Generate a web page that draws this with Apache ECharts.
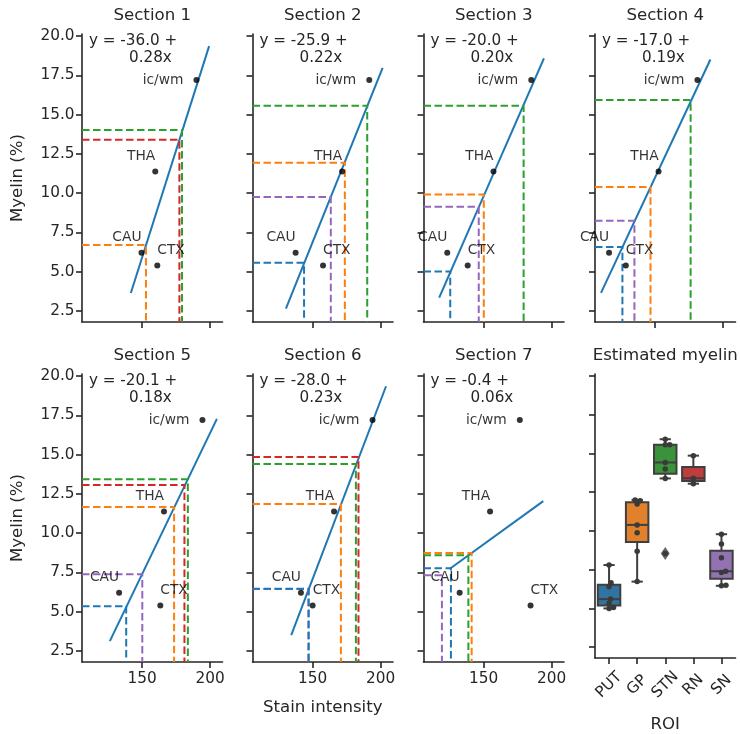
<!DOCTYPE html>
<html><head><meta charset="utf-8">
<script src="https://cdn.jsdelivr.net/npm/echarts@6/dist/echarts.min.js"></script>
<style>html,body{margin:0;padding:0;background:#fff}#c{width:740px;height:734px}</style>
</head><body><div id="c"></div>
<script>
// ---------------- data ----------------
const sectionTitles = ['Section 1','Section 2','Section 3','Section 4','Section 5','Section 6','Section 7'];
const boxTitle = 'Estimated myelin';
const eqLine1 = ['y = -36.0 +','y = -25.9 +','y = -20.0 +','y = -17.0 +','y = -20.1 +','y = -28.0 +','y = -0.4 +'];
const eqLine2 = ['0.28x','0.22x','0.20x','0.19x','0.18x','0.23x','0.06x'];

const pointNames = ['ic/wm','THA','CAU','CTX'];
const pointY = [17.2, 11.38, 6.2, 5.4];
const pointX = [
  [189.9, 159.7, 149.6, 161.2],
  [191.6, 171.7, 137.6, 157.7],
  [185.0, 157.3, 123.4, 138.4],
  [181.1, 152.6, 116.3, 128.6],
  [194.3, 166.1, 133.2, 163.4],
  [194.0, 165.8, 141.5, 150.1],
  [176.6, 154.8, 132.5, 184.5]
];

// regression line end points per section
const lineX = [[141.8,199.2],[130.5,201.4],[117.5,194.3],[110.4,190.6],[126.4,204.9],[134.4,203.9],[125.1,193.8]];
const lineY = [[3.65,19.36],[2.65,17.98],[3.35,18.58],[3.65,18.51],[3.13,17.27],[3.51,19.35],[7.72,12.04]];

const roiNames = ['PUT','GP','STN','RN','SN'];
// stain intensity of each ROI per section (null = not shown)
const roiX = [
  [null, 152.9, 179.3, 177.4, null],
  [143.8, 173.7, 190.1, null, 163.4],
  [125.6, 150.2, 179.4, null, 146.5],
  [126.1, 146.7, 176.1, null, 134.9],
  [138.4, 173.5, 183.6, 181.1, 150.2],
  [147.2, 170.8, 181.8, 183.7, 147.0],
  [126.1, 141.3, 138.9, null, 119.5]
];
// estimated myelin of each ROI per section
const roiY = [
  [null, 6.70, 14.02, 13.40, null],
  [5.57, 11.93, 15.57, null, 9.76],
  [5.01, 9.91, 15.57, null, 9.14],
  [6.57, 10.40, 15.93, null, 8.25],
  [5.35, 11.67, 13.43, 13.07, 7.38],
  [6.47, 11.85, 14.40, 14.84, 6.45],
  [7.76, 8.74, 8.59, null, 7.32]
];

// estimated myelin values shown in the box panel
const putVals = [5.0, 5.06, 5.33, 5.6, 6.4, 6.66, 7.8];
const gpVals  = [6.73, 8.69, 9.88, 10.39, 11.74, 11.95, 12.0];
const stnVals = [8.55, 13.39, 14.0, 14.42, 15.56, 15.56, 15.92];
const rnVals  = [13.05, 13.40, 14.86];
const snVals  = [6.46, 6.5, 7.32, 7.40, 8.27, 9.16, 9.79];

const xTicks = [150, 200];
const yTicks = [2.5, 5.0, 7.5, 10.0, 12.5, 15.0, 17.5, 20.0];
const X_MIN = 106, X_MAX = 209, Y_MIN = 1.8, Y_MAX = 20.13;

// ---------------- style ----------------
const FONT = 'DejaVu Sans';
const INK = '#262626';
const TICK_FS = 15.3;
const lineColors = ['#1f77b4','#ff7f0e','#2ca02c','#d62728','#9467bd'];
const boxColors = ['#3274a1','#e1812c','#3a923a','#c03d3e','#9372b2'];
const EDGE = '#3f3f3f';
const gridLeft = [82, 252.5, 423.5, 595];
const rowTop = [34, 374];
const gridW = 140.5, gridH = 288;

const roiVals = [putVals, gpVals, stnVals, rnVals, snVals];

function pct(sorted, p) {
  const idx = (sorted.length - 1) * p;
  const lo = Math.floor(idx), hi = Math.ceil(idx);
  return sorted[lo] + (sorted[hi] - sorted[lo]) * (idx - lo);
}
const boxStats = [];
const outliers = [];
roiVals.forEach((vals, i) => {
  const s = vals.slice().sort((a, b) => a - b);
  const q1 = pct(s, 0.25), med = pct(s, 0.5), q3 = pct(s, 0.75);
  const iqr = q3 - q1;
  const inside = s.filter(v => v >= q1 - 1.5 * iqr && v <= q3 + 1.5 * iqr);
  s.forEach(v => { if (v < q1 - 1.5 * iqr || v > q3 + 1.5 * iqr) outliers.push([i, v]); });
  boxStats.push([i, inside[0], q1, med, q3, inside[inside.length - 1]]);
});

const grids = [], xAxes = [], yAxes = [], series = [], graphics = [];
for (let k = 0; k < 8; k++) {
  const row = k < 4 ? 0 : 1, col = k % 4;
  grids.push({ left: gridLeft[col], top: rowTop[row], width: gridW, height: gridH, containLabel: false });
  const axisLine = { show: true, onZero: false, lineStyle: { color: INK, width: 1.6 } };
  const tickStyle = { color: INK, width: 1.6 };
  if (k < 7) {
    xAxes.push({
      type: 'value', gridIndex: k, min: X_MIN, max: X_MAX,
      axisLine, axisTick: { show: true, length: 6, lineStyle: tickStyle, customValues: xTicks },
      axisLabel: { show: k >= 4, customValues: xTicks, color: INK, fontSize: TICK_FS, fontFamily: FONT, margin: 10 },
      splitLine: { show: false },
      name: k === 5 ? 'Stain intensity' : '', nameLocation: 'middle', nameGap: 37,
      nameTextStyle: { color: INK, fontSize: 16.6, fontFamily: FONT }
    });
  } else {
    xAxes.push({
      type: 'category', gridIndex: k, data: roiNames, boundaryGap: true,
      axisLine, axisTick: { show: true, length: 6, alignWithLabel: true, lineStyle: tickStyle },
      axisLabel: { rotate: 45, align: 'center', verticalAlign: 'middle', color: INK, fontSize: TICK_FS, fontFamily: FONT, margin: 27 },
      splitLine: { show: false },
      name: 'ROI', nameLocation: 'middle', nameGap: 58,
      nameTextStyle: { color: INK, fontSize: 16.6, fontFamily: FONT }
    });
  }
  yAxes.push({
    type: 'value', gridIndex: k, min: Y_MIN, max: Y_MAX,
    axisLine, axisTick: { show: true, length: 6, lineStyle: tickStyle, customValues: yTicks },
    axisLabel: { show: k === 0 || k === 4, customValues: yTicks, formatter: v => v.toFixed(1),
      color: INK, fontSize: TICK_FS, fontFamily: FONT, margin: 7.5 },
    splitLine: { show: false },
    name: (k === 0 || k === 4) ? 'Myelin (%)' : '', nameLocation: 'middle', nameRotate: 90, nameGap: 56,
    nameTextStyle: { color: INK, fontSize: 16.6, fontFamily: FONT }
  });
  // panel title
  graphics.push({ type: 'text', x: gridLeft[col] + gridW / 2, y: rowTop[row] - 18,
    style: { text: k < 7 ? sectionTitles[k] : boxTitle, fill: INK, font: '16.6px "DejaVu Sans"',
      textAlign: 'center', textVerticalAlign: 'middle', align: 'center', verticalAlign: 'middle' } });
  if (k < 7) {
    graphics.push({ type: 'text', x: gridLeft[col] + 7, y: rowTop[row] + 7.5,
      style: { text: eqLine1[k], fill: INK, font: '15.2px "DejaVu Sans"', textAlign: 'left', textVerticalAlign: 'middle', align: 'left', verticalAlign: 'middle' } });
    graphics.push({ type: 'text', x: gridLeft[col] + 47, y: rowTop[row] + 24.5,
      style: { text: eqLine2[k], fill: INK, font: '15.2px "DejaVu Sans"', textAlign: 'left', textVerticalAlign: 'middle', align: 'left', verticalAlign: 'middle' } });
  }
}

const labelPos = {
  'ic/wm': { position: 'left', distance: 10, align: 'right', verticalAlign: 'middle' },
  'THA': { position: [3, -12], align: 'right', verticalAlign: 'middle' },
  'CAU': { position: [3, -12], align: 'right', verticalAlign: 'middle' },
  'CTX': { position: [3, -12], align: 'left', verticalAlign: 'middle' }
};
const drawOrder = [4, 0, 1, 2, 3];
for (let i = 0; i < 7; i++) {
  series.push({ type: 'line', xAxisIndex: i, yAxisIndex: i, symbol: 'none', z: 2,
    data: [[lineX[i][0], lineY[i][0]], [lineX[i][1], lineY[i][1]]],
    lineStyle: { color: '#1f77b4', width: 2 } });
  drawOrder.forEach(r => {
    if (roiX[i][r] == null) return;
    series.push({ type: 'line', xAxisIndex: i, yAxisIndex: i, symbol: 'none', z: 3,
      data: [[X_MIN, roiY[i][r]], [roiX[i][r], roiY[i][r]], [roiX[i][r], Y_MIN]],
      lineStyle: { color: lineColors[r], width: 2, type: [7.5, 3.5] } });
  });
  series.push({ type: 'scatter', xAxisIndex: i, yAxisIndex: i, symbolSize: 6, z: 5,
    itemStyle: { color: '#000' },
    data: pointX[i].map((x, j) => ({ value: [x, pointY[j]],
      label: Object.assign({ show: true, formatter: pointNames[j], color: '#000', fontSize: 13.8, fontFamily: FONT }, labelPos[pointNames[j]]) })) });
}

// box plot (custom, seaborn-like half-width caps)
series.push({
  type: 'custom', xAxisIndex: 7, yAxisIndex: 7, z: 2,
  data: boxStats,
  renderItem: (params, api) => {
    const c = api.value(0);
    const band = api.size([1, 0])[0];
    const w = band * 0.8;
    const p = n => api.coord([c, api.value(n)]);
    const lo = p(1), q1 = p(2), med = p(3), q3 = p(4), hi = p(5);
    const cx = lo[0];
    const st = { stroke: EDGE, lineWidth: 2 };
    return { type: 'group', children: [
      { type: 'line', shape: { x1: cx, y1: q3[1], x2: cx, y2: hi[1] }, style: st },
      { type: 'line', shape: { x1: cx, y1: q1[1], x2: cx, y2: lo[1] }, style: st },
      { type: 'line', shape: { x1: cx - w / 4, y1: hi[1], x2: cx + w / 4, y2: hi[1] }, style: st },
      { type: 'line', shape: { x1: cx - w / 4, y1: lo[1], x2: cx + w / 4, y2: lo[1] }, style: st },
      { type: 'rect', shape: { x: cx - w / 2, y: q3[1], width: w, height: q1[1] - q3[1] },
        style: { fill: boxColors[params.dataIndex], stroke: EDGE, lineWidth: 2 } },
      { type: 'line', shape: { x1: cx - w / 2, y1: med[1], x2: cx + w / 2, y2: med[1] }, style: st }
    ] };
  }
});
series.push({ type: 'scatter', xAxisIndex: 7, yAxisIndex: 7, z: 3, symbol: 'diamond', symbolSize: [9, 13],
  itemStyle: { color: EDGE }, data: outliers });

// swarm points
const swarmData = [];
roiVals.forEach((vals, i) => vals.forEach(v => swarmData.push([i, v])));
const DOT = 5.5;
series.push({
  type: 'custom', xAxisIndex: 7, yAxisIndex: 7, z: 4, data: swarmData,
  renderItem: (params, api) => {
    const c = api.value(0), v = api.value(1);
    const vals = roiVals[c];
    const pts = vals.map((val, j) => ({ j, val, y: api.coord([c, val])[1] }));
    const order = pts.slice().sort((a, b) => a.val - b.val);
    const placed = [];
    const offs = {};
    order.forEach(pt => {
      let best = 0;
      for (let k = 0; k < 400; k++) {
        const cands = k === 0 ? [0] : [k * 0.25, -k * 0.25];
        let found = null;
        for (const o of cands) {
          if (placed.every(q => Math.hypot(q.o - o, q.y - pt.y) >= DOT * 0.8)) { found = o; break; }
        }
        if (found !== null) { best = found; break; }
      }
      placed.push({ o: best, y: pt.y });
      offs[pt.j] = best;
    });
    const myIdx = params.dataIndex - swarmData.findIndex(d => d[0] === c);
    const pos = api.coord([c, v]);
    return { type: 'circle', shape: { cx: pos[0] + offs[myIdx], cy: pos[1], r: DOT / 2 }, style: { fill: '#3a3a3a' } };
  }
});

const chart = echarts.init(document.getElementById('c'), null, { renderer: 'canvas' });
chart.setOption({
  animation: false,
  backgroundColor: '#fff',
  textStyle: { fontFamily: FONT },
  grid: grids, xAxis: xAxes, yAxis: yAxes, series, graphic: graphics
});
</script></body></html>
